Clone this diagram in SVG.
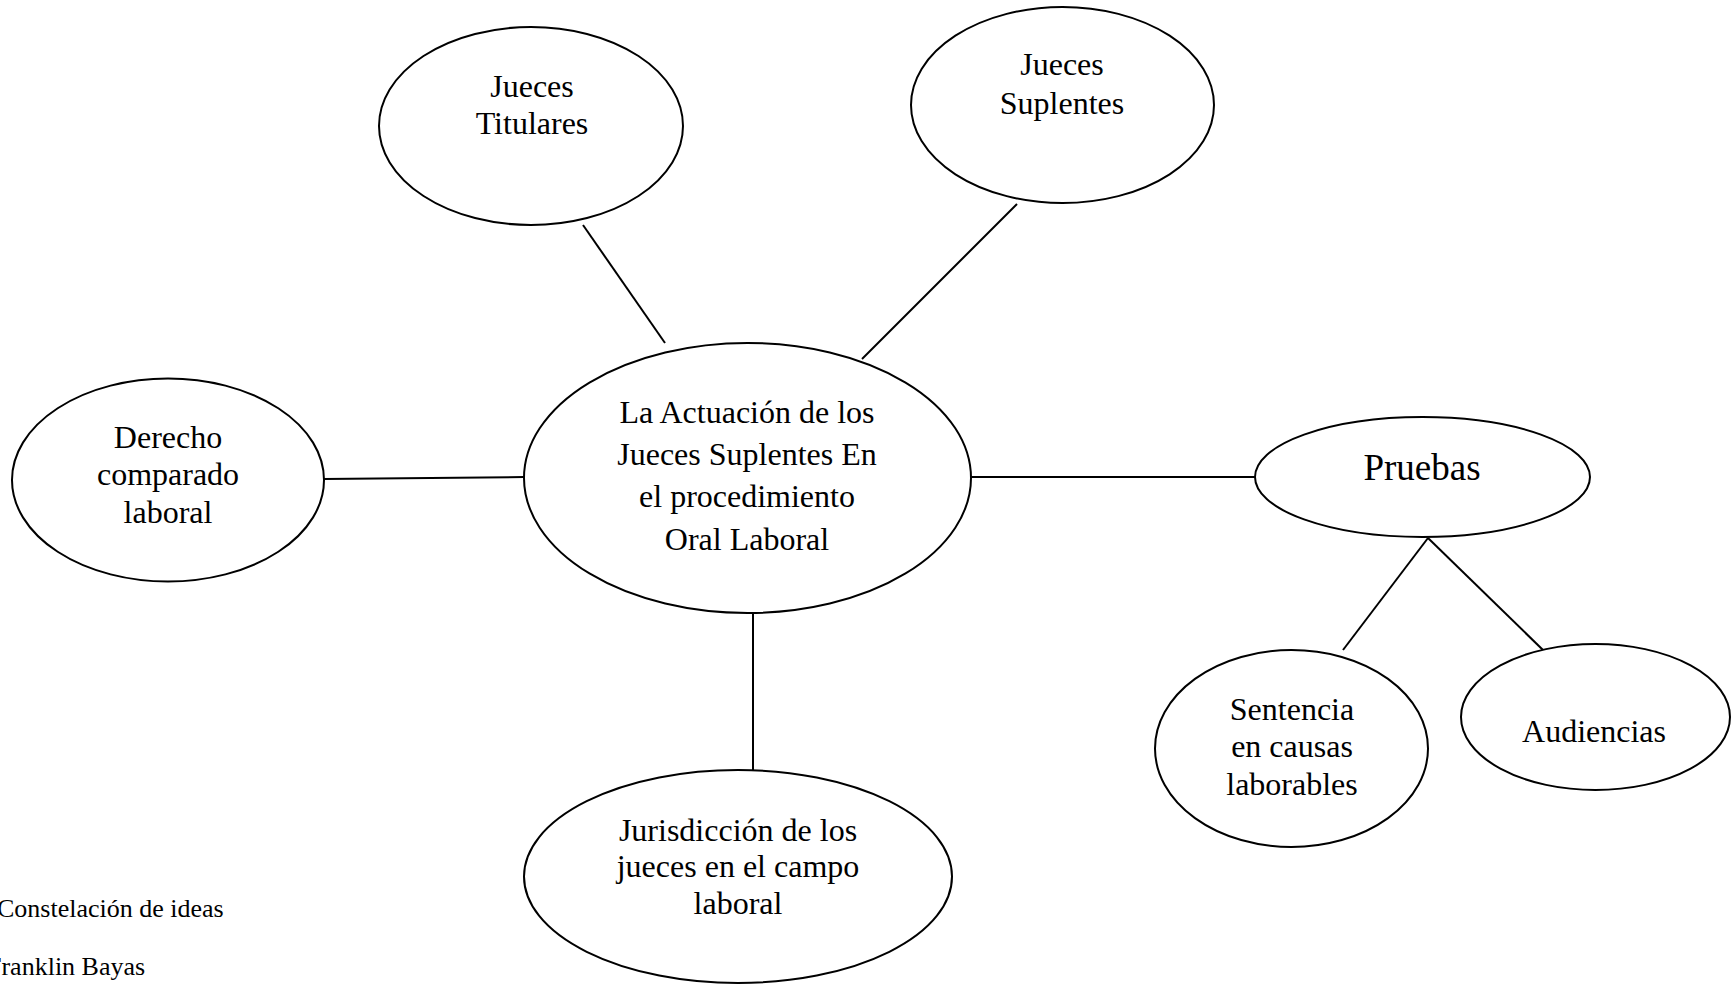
<svg xmlns="http://www.w3.org/2000/svg" width="1736" height="984" viewBox="0 0 1736 984">
<style>
.n{fill:#fff;stroke:#000;stroke-width:2}
.c line{stroke:#000;stroke-width:2}
text{font-family:"Liberation Serif","Times New Roman",serif;fill:#000;font-size:32px;text-anchor:middle}
.cap{text-anchor:start;font-size:26px}
</style>
<rect width="1736" height="984" fill="#fff"/>
<g id="connectors" class="c">
<line x1="583" y1="225" x2="665" y2="343"/>
<line x1="1017" y1="204" x2="862" y2="359"/>
<line x1="324" y1="479" x2="524" y2="477"/>
<line x1="971" y1="477" x2="1255" y2="477"/>
<line x1="753" y1="613" x2="753" y2="770"/>
<line x1="1428" y1="538" x2="1343" y2="650"/>
<line x1="1428" y1="538" x2="1543" y2="650"/>
</g>
<g id="titulares">
<ellipse class="n" cx="531" cy="126" rx="152" ry="99"/>
<text x="532" y="97">Jueces</text>
<text x="532" y="134">Titulares</text>
</g>
<g id="suplentes">
<ellipse class="n" cx="1062.5" cy="105" rx="151.5" ry="98"/>
<text x="1062" y="75">Jueces</text>
<text x="1062" y="114">Suplentes</text>
</g>
<g id="central">
<ellipse class="n" cx="747.5" cy="478" rx="223.5" ry="135"/>
<text x="747" y="423">La Actuación de los</text>
<text x="747" y="465">Jueces Suplentes En</text>
<text x="747" y="507">el procedimiento</text>
<text x="747" y="550">Oral Laboral</text>
</g>
<g id="derecho">
<ellipse class="n" cx="168" cy="480" rx="156" ry="101.5"/>
<text x="168" y="448">Derecho</text>
<text x="168" y="485">comparado</text>
<text x="168" y="523">laboral</text>
</g>
<g id="pruebas">
<ellipse class="n" cx="1422.5" cy="477" rx="167.5" ry="60"/>
<text x="1422" y="480" style="font-size:37px">Pruebas</text>
</g>
<g id="sentencia">
<ellipse class="n" cx="1291.5" cy="748.5" rx="136.5" ry="98.5"/>
<text x="1292" y="720">Sentencia</text>
<text x="1292" y="757">en causas</text>
<text x="1292" y="795">laborables</text>
</g>
<g id="audiencias">
<ellipse class="n" cx="1595.5" cy="717" rx="134.5" ry="73"/>
<text x="1594" y="742">Audiencias</text>
</g>
<g id="jurisdiccion">
<ellipse class="n" cx="738" cy="876.5" rx="214" ry="106.5"/>
<text x="738" y="841">Jurisdicción de los</text>
<text x="738" y="877">jueces en el campo</text>
<text x="738" y="914">laboral</text>
</g>
<g id="caption">
<text class="cap" x="-3" y="917">Constelación de ideas</text>
<text class="cap" x="-13" y="975">Franklin Bayas</text>
</g>
</svg>
